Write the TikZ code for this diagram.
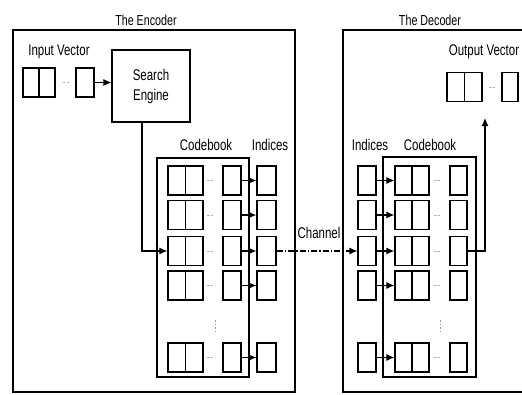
\documentclass[tikz,border=0pt]{standalone}
\usepackage{fontspec}
\setmainfont{Liberation Sans}[FakeStretch=0.74]
\usetikzlibrary{arrows.meta}
\begin{document}
\begin{tikzpicture}[x=1pt,y=-1pt,
  cell/.style={draw, line width=1.3pt, inner sep=0pt, minimum height=29pt},
  sgl/.style={cell, minimum width=18pt},
  dbl/.style={cell, minimum width=35pt, path picture={\draw[line width=1.3pt] (path picture bounding box.north) -- (path picture bounding box.south);}},
  lbl/.style={font=\fontsize{15.5}{20}\selectfont, inner sep=0pt},
  ttl/.style={font=\fontsize{14.5}{16}\selectfont, inner sep=0pt},
  outer/.style={draw, line width=2pt},
  book/.style={draw, line width=1.5pt},
  conn/.style={line width=1.1pt},
  arr/.style={conn, -{Latex[length=8pt,width=7pt]}},
  gap/.style={draw=gray!60, line width=0.9pt, dash pattern=on 2.5pt off 1.5pt},
]
\useasboundingbox (0,0) rectangle (522,394);
\clip (0,0) rectangle (522,394);
% outer frames
\draw[outer] (13,30) rectangle (295,392);
\draw[outer] (343,30) rectangle (540,392);
\node[ttl] (tenc) at (146,20) {The Encoder};
\node[ttl] (tdec) at (430,20) {The Decoder};
% encoder input
\node[lbl] (tin) at (59,52) {Input Vector};
\node[dbl, minimum width=32pt] (indbl) at (39,82.5) {};
\node[sgl] (insgl) at (85,82.5) {};
\draw[gap] (indbl.east) ++(7,0) -- ++(6,0);
\node[draw, line width=1.3pt, minimum width=78pt, minimum height=72pt, inner sep=0pt,
      lbl, align=center] (se) at (151,86) {Search\\Engine};
\draw[arr] (insgl.east) -- (insgl.east -| se.west);
% encoder codebook
\node[lbl] (ecb) at (206,145) {Codebook};
\node[lbl] (eix) at (270,145) {Indices};
\draw[book] (157,158) rectangle (249,377);
% decoder codebook
\node[lbl] (dix) at (370,145) {Indices};
\node[lbl] (dcb) at (430,145) {Codebook};
\draw[book] (383,157) rectangle (476,377);
\foreach \i/\y in {1/180.5,2/215,3/251,4/285.5,5/357.5}{
  \node[dbl] (edbl\i) at (185.5,\y) {};
  \node[sgl] (esgl\i) at (232,\y) {};
  \node[sgl, minimum width=19pt] (eidx\i) at (266.5,\y) {};
  \draw[gap] (207,\y) -- (213,\y);
  \draw[arr] (esgl\i.east) -- (eidx\i.west);
  \node[sgl] (didx\i) at (367,\y) {};
  \node[dbl, minimum width=34pt] (ddbl\i) at (412,\y) {};
  \node[sgl, minimum width=17pt] (dsgl\i) at (458.5,\y) {};
  \draw[gap] (434,\y) -- (440,\y);
  \draw[arr] (didx\i.east) -- (ddbl\i.west);
}
\draw[gray!80, line width=0.9pt, dash pattern=on 1.5pt off 2pt] (215,320) -- (215,334);
\draw[gray!80, line width=0.9pt, dash pattern=on 1.5pt off 2pt] (440,320) -- (440,334);
% search engine to codebook
\coordinate (ev) at (142,122);
\draw[arr] (ev) |- (edbl3.west);
% channel
\node[lbl] (chan) at (319,233) {Channel};
\draw[arr, dash pattern=on 6pt off 2pt on 1.5pt off 2pt] (eidx3.east) -- (didx3.west);
% decoder output
\node[lbl] (tout) at (484,52) {Output Vector};
\node[dbl] (outdbl) at (464.5,87) {};
\node[sgl, minimum width=16pt] (outsgl) at (510,87) {};
\draw[gap] (489,87) -- (495,87);
\coordinate (dv) at (485,118);
\draw[arr] (dsgl3.east) -| (dv);
\end{tikzpicture}
\end{document}
